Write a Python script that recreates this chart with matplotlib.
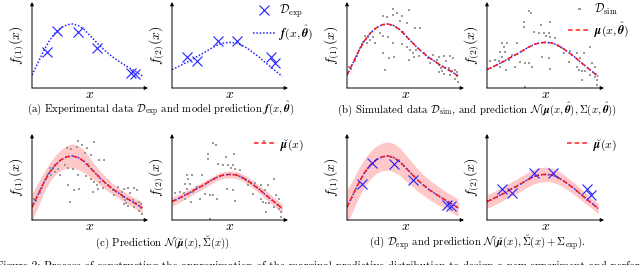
import matplotlib
matplotlib.use("Agg")
import matplotlib.pyplot as plt
import numpy as np

plt.rcParams["font.family"] = "serif"
plt.rcParams["font.serif"] = ["cmr10", "DejaVu Serif"]
plt.rcParams["mathtext.fontset"] = "cm"
plt.rcParams["axes.formatter.use_mathtext"] = True

# model curves (normalised axis units)
x_curve = [0.0, 0.05, 0.10, 0.15, 0.20, 0.25, 0.30, 0.35, 0.40, 0.45,
           0.50, 0.55, 0.60, 0.65, 0.70, 0.75, 0.80, 0.85, 0.90, 0.95]
f1_curve = [0.15, 0.29, 0.43, 0.55, 0.64, 0.70, 0.735, 0.745, 0.725, 0.68,
            0.61, 0.54, 0.47, 0.41, 0.355, 0.31, 0.265, 0.225, 0.185, 0.14]
f2_curve = [0.215, 0.245, 0.28, 0.315, 0.355, 0.39, 0.43, 0.47, 0.505, 0.525,
            0.53, 0.525, 0.50, 0.46, 0.41, 0.36, 0.30, 0.245, 0.19, 0.135]

# half widths of the predictive bands
s1_c = [0.16, 0.14, 0.12, 0.11, 0.11, 0.12, 0.13, 0.14, 0.14, 0.13,
        0.11, 0.09, 0.08, 0.07, 0.065, 0.06, 0.06, 0.06, 0.06, 0.065]
s2_c = [0.055, 0.05, 0.048, 0.045, 0.043, 0.042, 0.04, 0.04, 0.04, 0.04,
        0.04, 0.04, 0.04, 0.042, 0.044, 0.046, 0.048, 0.05, 0.05, 0.052]
s1_d = [0.20, 0.18, 0.17, 0.16, 0.16, 0.16, 0.16, 0.165, 0.165, 0.16,
        0.15, 0.14, 0.13, 0.12, 0.115, 0.11, 0.105, 0.10, 0.10, 0.10]
s2_d = [0.08, 0.08, 0.08, 0.08, 0.08, 0.085, 0.085, 0.085, 0.085, 0.085,
        0.085, 0.08, 0.08, 0.075, 0.07, 0.07, 0.065, 0.065, 0.06, 0.06]

# experimental data
x_exp = [0.127, 0.212, 0.398, 0.562, 0.857, 0.89]
y1_exp = [0.422, 0.66, 0.648, 0.469, 0.171, 0.163]
y2_exp = [0.364, 0.314, 0.55, 0.543, 0.357, 0.287]

# simulated data
x1_sim = [0.396, 0.305, 0.339, 0.390, 0.430, 0.473, 0.533, 0.510, 0.581, 0.624,
          0.481, 0.154, 0.182, 0.225, 0.140, 0.125, 0.111, 0.168, 0.239, 0.311,
          0.353, 0.396, 0.467, 0.311, 0.362, 0.402, 0.325, 0.538, 0.561, 0.590,
          0.530, 0.615, 0.658, 0.738, 0.772, 0.789, 0.829, 0.880, 0.846, 0.909,
          0.783, 0.801, 0.812, 0.789, 0.829, 0.869, 0.897, 0.926, 0.880, 0.937,
          0.943, 0.926, 0.952, 0.020, 0.031, 0.068, 0.083, 0.197, 0.282, 0.510,
          0.573, 0.695, 0.709, 0.453]
y1_sim = [0.915, 0.837, 0.822, 0.849, 0.876, 0.837, 0.907, 0.752, 0.694, 0.694,
          0.655, 0.605, 0.597, 0.597, 0.539, 0.512, 0.461, 0.527, 0.527, 0.605,
          0.597, 0.519, 0.512, 0.411, 0.345, 0.357, 0.209, 0.442, 0.403, 0.442,
          0.326, 0.372, 0.403, 0.384, 0.326, 0.357, 0.372, 0.372, 0.314, 0.345,
          0.267, 0.236, 0.198, 0.182, 0.163, 0.229, 0.202, 0.209, 0.147, 0.186,
          0.140, 0.109, 0.070, 0.248, 0.217, 0.318, 0.372, 0.558, 0.636, 0.481,
          0.357, 0.345, 0.287, 0.783]
x2_sim = [0.356, 0.376, 0.792, 0.313, 0.313, 0.462, 0.536, 0.399, 0.442, 0.484,
          0.507, 0.527, 0.541, 0.584, 0.128, 0.142, 0.171, 0.114, 0.157, 0.028,
          0.071, 0.100, 0.128, 0.185, 0.214, 0.114, 0.165, 0.242, 0.285, 0.328,
          0.356, 0.385, 0.470, 0.527, 0.541, 0.604, 0.641, 0.655, 0.712, 0.698,
          0.769, 0.798, 0.826, 0.883, 0.897, 0.926, 0.769, 0.783, 0.812, 0.840,
          0.812, 0.883, 0.926, 0.940, 0.328, 0.940, 0.256]
y2_sim = [0.895, 0.868, 0.915, 0.771, 0.713, 0.733, 0.771, 0.655, 0.636, 0.636,
          0.605, 0.636, 0.597, 0.578, 0.519, 0.481, 0.519, 0.422, 0.422, 0.318,
          0.326, 0.318, 0.364, 0.326, 0.384, 0.248, 0.209, 0.248, 0.306, 0.295,
          0.287, 0.248, 0.364, 0.345, 0.217, 0.488, 0.461, 0.403, 0.434, 0.306,
          0.403, 0.345, 0.403, 0.481, 0.287, 0.248, 0.248, 0.209, 0.202, 0.202,
          0.093, 0.151, 0.132, 0.035, 0.008, 0.093, 0.519]

BLUE = "#2222ff"
RED = "#ff1a1a"
GRAY = "#9a9a9a"
BAND = "#ffc8c8"

W, H = 640, 265
fig = plt.figure(figsize=(W / 100, H / 100), dpi=100)


def make_axes(left, top, width=116, height=86, ylab="$f_{(1)}(x)$"):
    ax = fig.add_axes([left / W, (H - top - height) / H, width / W, height / H])
    ax.set_xlim(0, 1)
    ax.set_ylim(0, 1)
    ax.axis("off")
    for end in [(1, 0), (0, 1)]:
        ax.annotate("", xy=end, xytext=(0, 0), xycoords="axes fraction",
                    arrowprops=dict(arrowstyle="-|>", lw=0.7, color="black",
                                    mutation_scale=5, shrinkA=0, shrinkB=0))
    ax.text(0.5, -0.075, "$x$", transform=ax.transAxes, ha="center", va="center",
            fontsize=10)
    ax.text(-0.13, 0.5, ylab, transform=ax.transAxes, ha="center", va="center",
            rotation=90, fontsize=10)
    return ax


def mean_line(ax, y, label=None):
    ax.plot(x_curve, y, ls=(0, (1, 1.2)), color=BLUE, lw=1.1)
    ax.plot(x_curve, y, ls=(0, (3, 2)), color=RED, lw=1.1, label=label)


def band(ax, y, s):
    lo = np.array(y) - np.array(s)
    hi = np.array(y) + np.array(s)
    ax.fill_between(x_curve, lo, hi, color=BAND, lw=0)


def legend(ax, xa, ya=1.05):
    ax.legend(loc="upper left", bbox_to_anchor=(xa, ya), frameon=False,
              fontsize=8.5, handlelength=1.9, borderaxespad=0,
              labelspacing=0.3, handletextpad=0.3)


lab1, lab2 = "$f_{(1)}(x)$", "$f_{(2)}(x)$"
cols = [32, 172, 347, 487]
cols_w = [116, 116, 117, 117]
mx = dict(color=BLUE, ms=7, mew=0.8, ls="none", marker="x")
dots = dict(color=GRAY, ms=1.8, mew=0, ls="none", marker="s")

# row 1 -------------------------------------------------------------
ax = make_axes(cols[0], 2, cols_w[0], ylab=lab1)
ax.plot(x_curve, f1_curve, ls=(0, (1, 1.2)), color=BLUE, lw=1.1)
ax.plot(x_exp, y1_exp, **mx)

ax = make_axes(cols[1], 2, cols_w[1], ylab=lab2)
ax.plot(x_exp, y2_exp, label=r"$\mathcal{D}_{\rm exp}$", **mx)
ax.plot(x_curve, f2_curve, ls=(0, (1, 1.2)), color=BLUE, lw=1.1,
        label=r"$\boldsymbol{f}(x,\hat{\boldsymbol{\theta}})$")
legend(ax, 0.655)

ax = make_axes(cols[2], 2, cols_w[2], ylab=lab1)
ax.plot(x1_sim, y1_sim, **dots)
mean_line(ax, f1_curve)

ax = make_axes(cols[3], 2, cols_w[3], ylab=lab2)
ax.plot(x2_sim, y2_sim, label=r"$\mathcal{D}_{\rm sim}$", **dots)
mean_line(ax, f2_curve, label=r"$\boldsymbol{\mu}(x,\hat{\boldsymbol{\theta}})$")
legend(ax, 0.65)

# row 2 -------------------------------------------------------------
ax = make_axes(cols[0], 134, cols_w[0], ylab=lab1)
band(ax, f1_curve, s1_c)
ax.plot(x1_sim, y1_sim, **dots)
mean_line(ax, f1_curve)

ax = make_axes(cols[1], 134, cols_w[1], ylab=lab2)
band(ax, f2_curve, s2_c)
ax.plot(x2_sim, y2_sim, **dots)
mean_line(ax, f2_curve, label=r"$\breve{\boldsymbol{\mu}}(x)$")
legend(ax, 0.67, 1.02)

ax = make_axes(cols[2], 134, cols_w[2], ylab=lab1)
band(ax, f1_curve, s1_d)
mean_line(ax, f1_curve)
ax.plot(x_exp, y1_exp, **mx)

ax = make_axes(cols[3], 134, cols_w[3], ylab=lab2)
band(ax, f2_curve, s2_d)
mean_line(ax, f2_curve, label=r"$\breve{\boldsymbol{\mu}}(x)$")
ax.plot(x_exp, y2_exp, **mx)
legend(ax, 0.64, 1.02)

# captions ------------------------------------------------------------
cap = dict(ha="center", va="center", fontsize=7.8)
fig.text(161 / W, 1 - 109 / H,
         r"(a) Experimental data $\mathcal{D}_{\rm exp}$ and model prediction "
         r"$\boldsymbol{f}(x,\hat{\boldsymbol{\theta}})$", **cap)
fig.text(477 / W, 1 - 109 / H,
         r"(b) Simulated data $\mathcal{D}_{\rm sim}$, and prediction "
         r"$\mathcal{N}(\boldsymbol{\mu}(x,\hat{\boldsymbol{\theta}}),"
         r"\mathbf{\Sigma}(x,\hat{\boldsymbol{\theta}}))$", **cap)
fig.text(163 / W, 1 - 242 / H,
         r"(c) Prediction $\mathcal{N}(\breve{\boldsymbol{\mu}}(x),"
         r"\breve{\mathbf{\Sigma}}(x))$", **cap)
fig.text(477 / W, 1 - 242 / H,
         r"(d) $\mathcal{D}_{\rm exp}$ and prediction "
         r"$\mathcal{N}(\breve{\boldsymbol{\mu}}(x),\breve{\mathbf{\Sigma}}(x)"
         r"+\mathbf{\Sigma}_{\rm exp})$.", **cap)
fig.text(-4 / W, 1 - 266 / H,
         "Figure 2: Process of constructing the approximation of the marginal "
         "predictive distribution to design a new experiment and perform",
         ha="left", va="center", fontsize=8.1)

fig.savefig("out.png", dpi=100)
